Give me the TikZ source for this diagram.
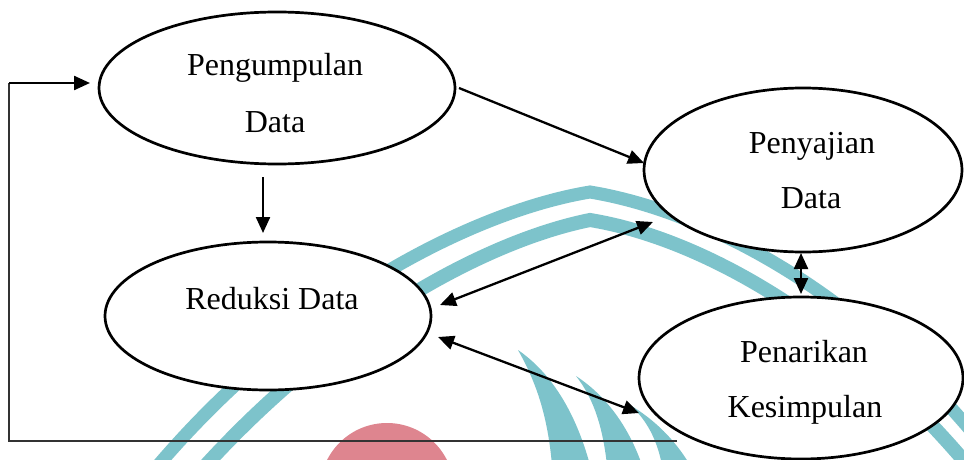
\documentclass[tikz,border=0pt]{standalone}
\usepackage{fontspec}
\setmainfont{Liberation Serif}
\usetikzlibrary{shapes.geometric,arrows.meta,calc}
\definecolor{wmcyan}{RGB}{125,195,203}
\definecolor{wmred}{RGB}{222,133,143}
\begin{document}
\begin{tikzpicture}[x=1pt,y=-1pt,
  ell/.style={ellipse,draw,line width=2.7pt,fill=white,inner sep=0pt},
  lbl/.style={anchor=base,font=\fontsize{32}{38}\selectfont,inner sep=0pt},
  arr/.style={line width=2.3pt,-{Triangle[length=16pt,width=14pt]}},
  darr/.style={line width=2.3pt,{Triangle[length=16pt,width=14pt]}-{Triangle[length=16pt,width=14pt]}},
  band/.style={draw=wmcyan,line width=13pt},
  thinline/.style={line width=1.7pt,draw=black!80}]
\fill[white] (0,0) rectangle (964,460);
\useasboundingbox (0,0) rectangle (964,460);
% watermark
\begin{scope}
  \clip (0,0) rectangle (964,460);
  \fill[wmred] (387,490) circle[radius=67];
  \draw[band] (150,475) .. controls (300,295) and (480,210) .. (590,192)
              .. controls (700,210) and (870,290) .. (1010,480);
  \draw[band,line width=14pt] (197,475) .. controls (335,320) and (490,240) .. (590,220)
              .. controls (700,238) and (850,320) .. (980,480);
  \fill[wmcyan] (518,350) .. controls (550,372) and (575,410) .. (590,465) -- (552,465)
              .. controls (548,420) and (538,385) .. (518,350) -- cycle;
  \fill[wmcyan] (576,376) .. controls (605,395) and (628,425) .. (642,465) -- (607,465)
              .. controls (603,430) and (595,400) .. (576,376) -- cycle;
  \fill[wmcyan] (630,405) .. controls (655,420) and (675,440) .. (690,465) -- (662,465)
              .. controls (657,440) and (647,420) .. (630,405) -- cycle;
\end{scope}
% ellipses
\node[ell,minimum width=356pt,minimum height=152pt] (pg) at (277,88) {};
\node[ell,minimum width=318pt,minimum height=164pt] (pj) at (803,170) {};
\node[ell,minimum width=326pt,minimum height=148pt] (rd) at (268,316) {};
\node[ell,minimum width=324pt,minimum height=162pt] (pk) at (801,378) {};
% labels
\node[lbl] (pg1) at (275,76) {Pengumpulan};
\node[lbl] (pg2) at (275,132) {Data};
\node[lbl] (rd1) at (272,309) {Reduksi Data};
\node[lbl] (pj1) at (812,153) {Penyajian};
\node[lbl] (pj2) at (811,208) {Data};
\node[lbl] (pk1) at (804,362) {Penarikan};
\node[lbl] (pk2) at (805,417) {Kesimpulan};
% connectors
\draw[arr] ($(pg.center)+(182,0)$) -- ($(pj.center)+(-159,-7)$);
\draw[arr] ($(pg.center)+(-14,89)$) -- ($(rd.center)+(-5,-83)$);
\draw[darr] ($(rd.center)+(172,-11)$) -- ($(pj.center)+(-150,52)$);
\draw[darr] ($(rd.center)+(170,21)$) -- ($(pk.center)+(-162,35)$);
\draw[darr] ($(pj.center)+(-2,83)$) -- ($(pk.center)+(0,-84)$);
% feedback loop
\coordinate (fbtop) at (9,83);
\coordinate (fbbot) at (9,441);
\coordinate (fbend) at (677,441);
\draw[thinline] (fbend) -- (fbbot) -- (fbtop);
\draw[arr,line width=2.4pt] (fbtop) -- ($(pg.center)+(-187,-5)$);
\end{tikzpicture}
\end{document}
